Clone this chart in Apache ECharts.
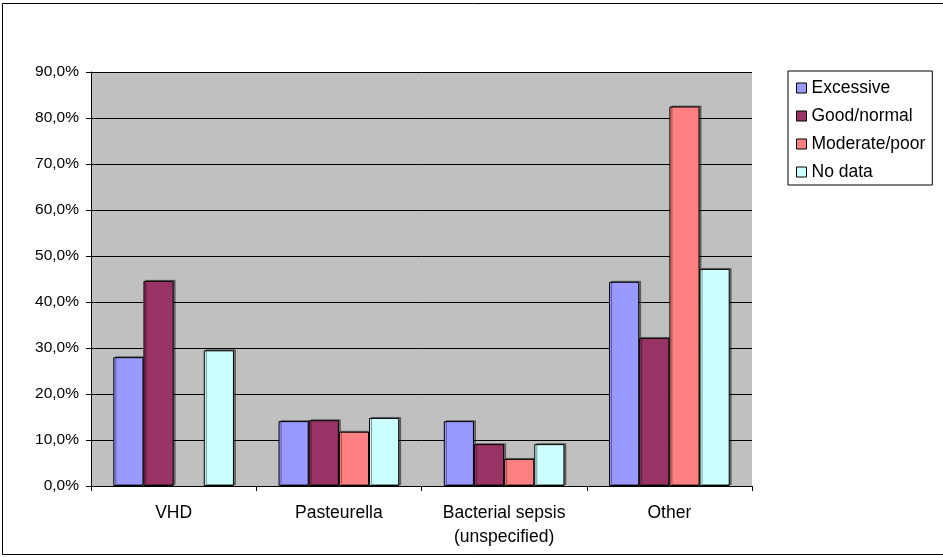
<!DOCTYPE html>
<html><head><meta charset="utf-8">
<script src="https://cdn.jsdelivr.net/npm/echarts@6/dist/echarts.min.js"></script>
<style>html,body{margin:0;padding:0;background:#fff}#c{width:943px;height:557px}</style>
</head><body><div id="c"></div>
<script>
const categories = ['VHD', 'Pasteurella', 'Bacterial sepsis\n(unspecified)', 'Other'];
const seriesNames = ['Excessive', 'Good/normal', 'Moderate/poor', 'No data'];
const excessive = [28.0, 14.1, 14.1, 44.4];
const goodNormal = [44.6, 14.3, 9.1, 32.2];
const moderatePoor = [null, 11.8, 5.9, 82.5];
const noData = [29.5, 14.8, 9.1, 47.2];
const colors = ['#9999FF', '#993366', '#FF8080', '#CCFFFF'];
const values = [excessive, goodNormal, moderatePoor, noData];

const font = 'Liberation Sans, Arial, sans-serif';
const chart = echarts.init(document.getElementById('c'), null, {renderer: 'canvas'});
chart.setOption({
  animation: false,
  textStyle: {fontFamily: font},
  graphic: [{type: 'rect', shape: {x: 2.5, y: 3.5, width: 950, height: 551}, style: {fill: 'none', stroke: '#000', lineWidth: 1}, silent: true, z: -1}],
  legend: {
    orient: 'vertical', left: 788, top: 71,
    itemWidth: 10, itemHeight: 10, itemGap: 10,
    padding: [8, 7, 4, 8],
    borderColor: '#000', borderWidth: 1,
    textStyle: {fontFamily: font, fontSize: 17.5, color: '#000'},
    icon: 'rect',
    itemStyle: {borderColor: '#000', borderWidth: 1},
    data: seriesNames
  },
  grid: {left: 91, right: 191, top: 72, bottom: 71, backgroundColor: '#C0C0C0', show: true, borderWidth: 0},
  xAxis: {
    type: 'category', data: categories,
    axisLine: {lineStyle: {color: '#000', width: 1}},
    axisTick: {show: true, length: 5, lineStyle: {color: '#000'}},
    axisLabel: {fontFamily: font, fontSize: 17.5, color: '#000', margin: 15, lineHeight: 24}
  },
  yAxis: {
    type: 'value', min: 0, max: 90, interval: 10,
    axisLine: {show: true, lineStyle: {color: '#000'}},
    axisTick: {show: true, length: 5, inside: false, lineStyle: {color: '#000'}},
    splitLine: {lineStyle: {color: '#000', width: 1}},
    axisLabel: {fontFamily: font, fontSize: 15.5, color: '#000', margin: 12,
      formatter: v => v.toFixed(1).replace('.', ',') + '%'}
  },
  series: seriesNames.map((n, i) => ({
    name: n, type: 'bar', data: values[i],
    barCategoryGap: '27%', barGap: '0%',
    itemStyle: {color: colors[i], borderColor: '#000', borderWidth: 1,
      shadowColor: 'rgba(0,0,0,0.4)', shadowOffsetX: 2, shadowOffsetY: -1, shadowBlur: 0}
  }))
});
</script></body></html>
